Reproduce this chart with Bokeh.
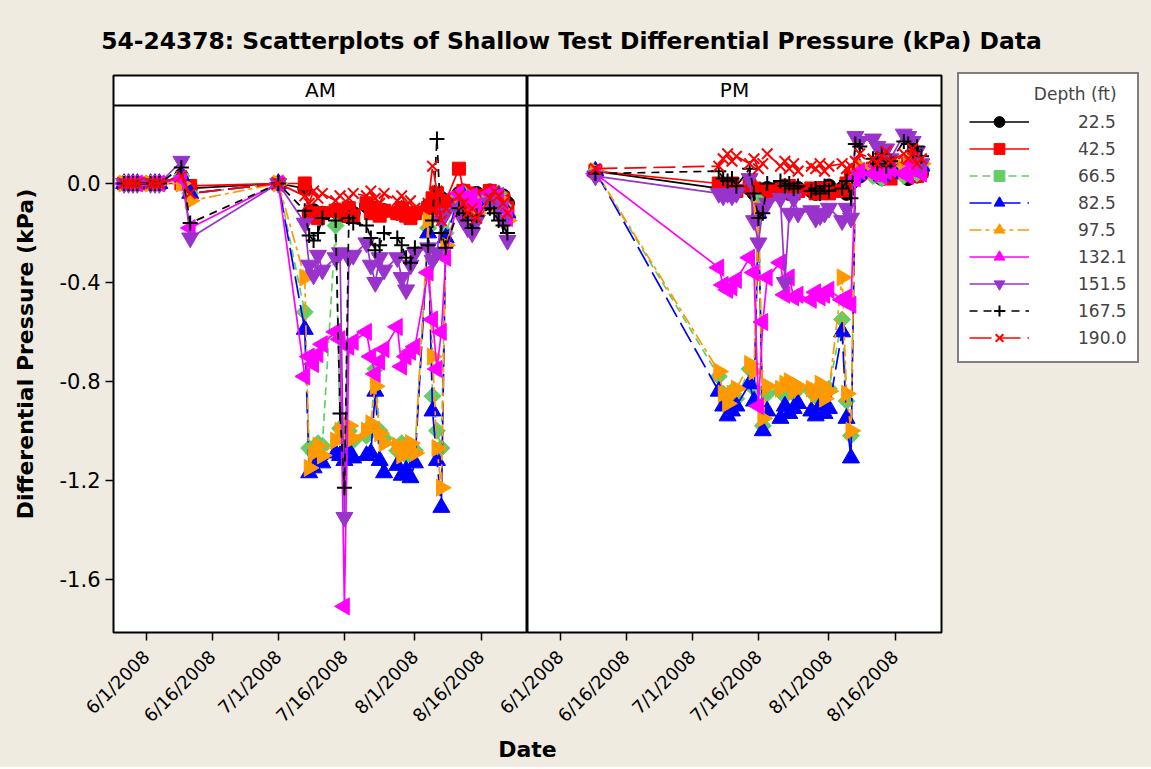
import math
from datetime import datetime
import pandas as pd
from bokeh.plotting import figure
from bokeh.layouts import column, row
from bokeh.models import (ColumnDataSource, Range1d, FixedTicker, DatetimeTickFormatter,
                          PrintfTickFormatter, Span, Label, Legend, LegendItem)
from bokeh.embed import file_html
from bokeh.resources import INLINE
from bokeh.core.properties import value

# ---------------- data ----------------
TITLE = "54-24378:  Scatterplots of Shallow Test Differential Pressure (kPa) Data"
PANELS = ["AM", "PM"]
X_LABEL = "Date"
Y_LABEL = "Differential Pressure (kPa)"
LEGEND_TITLE = "Depth (ft)"
DEPTHS = ["22.5", "42.5", "66.5", "82.5", "97.5", "132.1", "151.5", "167.5", "190.0"]
X_TICK_DATES = ["2008-06-01", "2008-06-16", "2008-07-01", "2008-07-16", "2008-08-01", "2008-08-16"]
Y_TICKS = [0.0, -0.4, -0.8, -1.2, -1.6]

AM_DATES = ["2008-05-27", "2008-05-28", "2008-05-29", "2008-05-30", "2008-06-02", "2008-06-03", "2008-06-04",
            "2008-06-09", "2008-06-11", "2008-07-01",
            "2008-07-07", "2008-07-08", "2008-07-09", "2008-07-10", "2008-07-11",
            "2008-07-14", "2008-07-15", "2008-07-16", "2008-07-17", "2008-07-18",
            "2008-07-21", "2008-07-22", "2008-07-23", "2008-07-24", "2008-07-25",
            "2008-07-28", "2008-07-29", "2008-07-30", "2008-07-31", "2008-08-01",
            "2008-08-04", "2008-08-05", "2008-08-06", "2008-08-07", "2008-08-08",
            "2008-08-11", "2008-08-12", "2008-08-13", "2008-08-14", "2008-08-15",
            "2008-08-18", "2008-08-19", "2008-08-20", "2008-08-21", "2008-08-22"]

AM_22_5 = [0.0, 0.0, 0.0, 0.0, 0.0, 0.0, 0.0, 0.03, -0.02, 0.0,
           -0.02, -0.12, -0.11, -0.13, -0.12, -0.11, -0.12, -0.13, -0.10, -0.12,
           -0.09, -0.11, -0.10, -0.12, -0.11, -0.12, -0.10, -0.12, -0.13, -0.12,
           -0.09, -0.08, -0.05, -0.06, -0.07, -0.04, -0.03, -0.05, -0.06, -0.04,
           -0.03, -0.04, -0.06, -0.05, -0.08]
AM_42_5 = [0.0, 0.0, 0.0, 0.0, 0.0, 0.0, 0.0, 0.0, -0.01, 0.0,
           0.0, -0.13, -0.12, -0.14, -0.12, -0.11, -0.13, -0.12, -0.10, -0.13,
           -0.08, -0.12, -0.10, -0.13, -0.11, -0.12, -0.10, -0.13, -0.14, -0.12,
           -0.10, -0.06, -0.04, -0.10, -0.07, 0.06, -0.03, -0.04, -0.06, -0.05,
           -0.03, -0.05, -0.08, -0.06, -0.10]
AM_66_5 = [0.0, 0.0, 0.0, 0.0, 0.0, 0.0, 0.0, 0.03, -0.04, 0.0,
           -0.52, -1.07, -1.09, -1.05, -1.06, -0.17, -0.99, -1.02, -1.00, -1.04,
           -1.02, -0.98, -0.75, -1.00, -1.03, -1.08, -1.05, -1.10, -1.06, -1.08,
           -0.18, -0.86, -1.00, -1.07, -0.20, -0.05, -0.04, -0.08, -0.06, -0.10,
           -0.05, -0.07, -0.04, -0.09, -0.13]
AM_82_5 = [0.0, 0.0, 0.0, 0.0, 0.0, 0.0, 0.0, 0.03, -0.04, 0.0,
           -0.59, -1.17, -1.15, -1.12, -1.13, -1.09, -1.10, -1.12, -1.08, -1.11,
           -1.10, -1.09, -0.84, -1.12, -1.17, -1.14, -1.18, -1.16, -1.19, -1.13,
           -0.20, -0.92, -1.12, -1.31, -0.22, -0.06, -0.05, -0.09, -0.07, -0.11,
           -0.06, -0.08, -0.05, -0.10, -0.12]
AM_97_5 = [0.0, 0.0, 0.0, 0.0, 0.0, 0.0, 0.0, 0.0, -0.07, 0.0,
           -0.38, -1.15, -1.09, -1.06, -1.10, -1.04, -1.00, -1.02, -0.98, -1.03,
           -1.00, -0.97, -0.82, -1.01, -1.05, -1.06, -1.10, -1.07, -1.05, -1.09,
           -0.15, -0.70, -1.07, -1.23, -0.25, -0.07, -0.06, -0.10, -0.08, -0.12,
           -0.07, -0.09, -0.06, -0.11, -0.15]
AM_132_1 = [0.0, 0.0, 0.0, 0.0, 0.0, 0.0, 0.0, 0.02, -0.18, 0.0,
            -0.78, -0.70, -0.73, -0.69, -0.65, -0.60, -0.63, -1.71, -0.66, -0.64,
            -0.60, -0.70, -0.77, -0.72, -0.67, -0.58, -0.74, -0.70, -0.68, -0.66,
            -0.36, -0.55, -0.75, -0.60, -0.30, -0.04, -0.06, -0.08, -0.05, -0.09,
            -0.04, -0.06, -0.05, -0.10, -0.14]
AM_151_5 = [0.0, 0.0, 0.0, 0.0, 0.0, 0.0, 0.0, 0.09, -0.22, 0.0,
            -0.16, -0.33, -0.37, -0.29, -0.35, -0.30, -0.28, -1.35, -0.30, -0.29,
            -0.24, -0.33, -0.40, -0.30, -0.35, -0.30, -0.38, -0.43, -0.33, -0.28,
            -0.26, -0.31, -0.28, -0.15, -0.12, -0.10, -0.15, -0.18, -0.20, -0.15,
            -0.08, -0.06, -0.10, -0.15, -0.23]
AM_167_5 = [0.0, 0.0, 0.0, 0.0, 0.0, 0.0, 0.0, 0.065, -0.16, 0.0,
            -0.11, -0.21, -0.23, -0.20, -0.14, -0.15, -0.93, -1.23, -0.14, -0.16,
            -0.17, -0.22, -0.27, -0.25, -0.20, -0.22, -0.25, -0.30, -0.32, -0.26,
            -0.25, -0.15, 0.18, -0.20, -0.26, -0.10, -0.12, -0.15, -0.18, -0.13,
            -0.10, -0.12, -0.15, -0.17, -0.20]
AM_190_0 = [0.0, 0.0, 0.0, 0.0, 0.0, 0.0, 0.0, 0.03, -0.04, 0.0,
            -0.05, -0.08, -0.03, -0.06, -0.04, -0.07, -0.05, -0.10, -0.06, -0.04,
            -0.05, -0.03, -0.06, -0.08, -0.04, -0.07, -0.05, -0.09, -0.07, -0.10,
            -0.08, 0.07, -0.03, -0.15, -0.10, -0.05, -0.08, -0.12, -0.10, -0.14,
            -0.06, -0.03, -0.05, -0.08, -0.12]

PM_DATES = ["2008-06-09",
            "2008-07-07", "2008-07-08", "2008-07-09", "2008-07-10", "2008-07-11",
            "2008-07-14", "2008-07-15", "2008-07-16", "2008-07-17", "2008-07-18",
            "2008-07-21", "2008-07-22", "2008-07-23", "2008-07-24", "2008-07-25",
            "2008-07-28", "2008-07-29", "2008-07-30", "2008-07-31", "2008-08-01",
            "2008-08-04", "2008-08-05", "2008-08-06", "2008-08-07", "2008-08-08",
            "2008-08-11", "2008-08-12", "2008-08-13", "2008-08-14", "2008-08-15",
            "2008-08-18", "2008-08-19", "2008-08-20", "2008-08-21", "2008-08-22"]

PM_22_5 = [0.05,
           -0.02, -0.03, -0.02, -0.04, -0.03, -0.02, -0.04, -0.05, -0.03, -0.02,
           -0.03, -0.01, -0.04, -0.03, -0.02, -0.03, -0.04, -0.02, -0.03, -0.01,
           -0.02, -0.04, 0.0, 0.02, 0.03, 0.04, 0.03, 0.02, 0.05, 0.03,
           0.04, 0.02, 0.05, 0.03, 0.04]
PM_42_5 = [0.05,
           0.0, -0.01, -0.02, 0.0, -0.03, -0.01, -0.02, -0.10, -0.04, -0.03,
           -0.02, -0.03, -0.01, -0.04, -0.03, -0.02, -0.04, -0.03, -0.02, -0.04,
           -0.03, 0.0, 0.03, 0.05, 0.04, 0.06, 0.05, 0.03, 0.04, 0.02,
           0.06, 0.08, 0.05, 0.03, 0.05]
PM_66_5 = [0.05,
           -0.78, -0.85, -0.88, -0.84, -0.87, -0.75, -0.83, -0.07, -0.98, -0.85,
           -0.84, -0.86, -0.82, -0.85, -0.83, -0.84, -0.86, -0.82, -0.85, -0.83,
           -0.55, -0.88, -1.02, 0.02, 0.05, 0.03, 0.06, 0.02, 0.04, 0.07,
           0.03, 0.05, 0.08, 0.04, 0.06]
PM_82_5 = [0.05,
           -0.84, -0.90, -0.94, -0.92, -0.90, -0.81, -0.88, -0.12, -1.00, -0.92,
           -0.95, -0.90, -0.93, -0.91, -0.89, -0.92, -0.94, -0.90, -0.93, -0.91,
           -0.60, -0.95, -1.11, 0.03, 0.06, 0.04, 0.07, 0.03, 0.05, 0.08,
           0.04, 0.06, 0.09, 0.05, 0.07]
PM_97_5 = [0.05,
           -0.76, -0.85, -0.89, -0.85, -0.83, -0.73, -0.76, -0.10, -0.95, -0.82,
           -0.83, -0.81, -0.80, -0.84, -0.82, -0.83, -0.85, -0.81, -0.87, -0.84,
           -0.38, -0.85, -1.00, 0.04, 0.07, 0.05, 0.08, 0.04, 0.06, 0.09,
           0.05, 0.07, 0.10, 0.06, 0.08]
PM_132_1 = [0.04,
            -0.34, -0.41, -0.43, -0.42, -0.39, -0.30, -0.36, -0.90, -0.56, -0.38,
            -0.32, -0.45, -0.38, -0.46, -0.45, -0.47, -0.44, -0.46, -0.45, -0.43,
            -0.47, -0.46, -0.49, 0.02, 0.05, 0.04, 0.07, 0.03, 0.05, 0.06,
            0.04, 0.03, 0.08, 0.05, 0.04]
PM_151_5 = [0.03,
            -0.04, -0.05, -0.04, -0.05, -0.04, 0.02, -0.15, -0.24, -0.10, -0.08,
            -0.06, -0.40, -0.12, -0.06, -0.12, -0.11, -0.14, -0.13, -0.12, -0.10,
            -0.15, -0.10, -0.14, 0.19, 0.17, 0.18, 0.15, 0.12, 0.14, 0.10,
            0.20, 0.19, 0.17, 0.13, 0.08]
PM_167_5 = [0.04,
            0.05, 0.02, 0.01, 0.02, -0.01, 0.06, -0.04, -0.14, -0.12, 0.0,
            0.01, -0.01, 0.0, -0.02, -0.01, -0.03, -0.02, -0.04, -0.01, -0.03,
            -0.02, 0.01, -0.06, 0.16, 0.15, 0.10, 0.08, 0.12, 0.07, 0.09,
            0.17, 0.16, 0.13, 0.15, 0.11]
PM_190_0 = [0.06,
            0.07, 0.10, 0.12, 0.09, 0.11, 0.08, 0.10, 0.06, 0.08, 0.12,
            0.07, 0.09, 0.06, 0.08, 0.05, 0.07, 0.06, 0.08, 0.05, 0.07,
            0.08, 0.06, 0.07, 0.09, 0.12, 0.10, 0.08, 0.11, 0.13, 0.09,
            0.12, 0.10, 0.14, 0.08, 0.10]

AM_SERIES = [AM_22_5, AM_42_5, AM_66_5, AM_82_5, AM_97_5, AM_132_1, AM_151_5, AM_167_5, AM_190_0]
PM_SERIES = [PM_22_5, PM_42_5, PM_66_5, PM_82_5, PM_97_5, PM_132_1, PM_151_5, PM_167_5, PM_190_0]

# ---------------- styles ----------------
BG = "#EFEBE0"
COLORS = ["#000000", "#FF0000", "#66CC66", "#0000FF", "#FF9900", "#FF00FF", "#9933CC", "#000000", "#FF0000"]
MARKERS = ["circle", "square", "square", "triangle", "triangle", "triangle", "inverted_triangle", "cross", "x"]
ANGLES = [0, 0, math.pi / 4, 0, -math.pi / 2, math.pi / 2, 0, 0, 0]
SIZES = [14, 13, 12, 17, 17, 17, 17, 15, 15]
MARKER_LW = [1, 1, 1, 1, 1, 1, 1, 2, 2]
DASHES = ["solid", "solid", "8 5", "22 7", "12 4 4 4", "solid", "solid", "8 6", "22 7"]

X0 = datetime(2008, 5, 24, 14, 10)
X1 = datetime(2008, 8, 26, 13, 15)
Y0, Y1 = -1.8156, 0.4367
STRIP_Y = 0.3154
FONT = "DejaVu Sans"
PM_OVERLAP = 44   # PM canvas reaches left under the AM panel so its first tick label is not cut


def build_panel(name, dates, series, first):
    data = {"date": pd.to_datetime(dates)}
    for i, s in enumerate(series):
        data[f"s{i}"] = s
    src = ColumnDataSource(data)
    kw = dict(frame_width=414, frame_height=557, x_axis_type="datetime",
              x_range=Range1d(X0, X1), y_range=Range1d(Y0, Y1),
              output_backend="svg", toolbar_location=None, title=None,
              min_border_top=6, min_border_bottom=100,
              background_fill_color="white",
              outline_line_color="black", outline_line_width=2)
    if first:
        p = figure(min_border_left=113, min_border_right=0, border_fill_color=BG, **kw)
    else:
        p = figure(min_border_left=PM_OVERLAP, min_border_right=194, y_axis_location=None,
                   border_fill_color=BG, border_fill_alpha=0.0,
                   margin=(0, 0, 0, -PM_OVERLAP), **kw)
    p.xgrid.visible = False
    p.ygrid.visible = False

    rends = []
    for i in range(len(DEPTHS)):
        lr = p.line("date", f"s{i}", source=src, line_color=COLORS[i], line_width=1.7,
                    line_dash=DASHES[i])
        sr = p.scatter("date", f"s{i}", source=src, marker=MARKERS[i], size=SIZES[i],
                       angle=ANGLES[i], fill_color=COLORS[i], line_color=COLORS[i],
                       line_width=MARKER_LW[i])
        rends.append([lr, sr])

    xa = p.xaxis[0]
    xa.ticker = FixedTicker(ticks=[pd.Timestamp(d).value / 1e6 for d in X_TICK_DATES])
    fmt = "%-m/%-d/%Y"
    xa.formatter = DatetimeTickFormatter(microseconds=fmt, milliseconds=fmt, seconds=fmt, minsec=fmt,
                                         minutes=fmt, hourmin=fmt, hours=fmt, days=fmt,
                                         months=fmt, years=fmt)
    xa.axis_line_color = None
    xa.major_tick_line_color = "black"
    xa.major_tick_line_width = 1.5
    xa.major_tick_out = 8
    xa.major_tick_in = 0
    xa.minor_tick_line_color = None
    xa.major_label_orientation = math.pi / 4
    xa.major_label_text_font = FONT
    xa.major_label_text_font_size = "18px"
    xa.major_label_text_color = "black"
    xa.major_label_standoff = 13

    if first:
        ya = p.yaxis[0]
        ya.ticker = FixedTicker(ticks=Y_TICKS)
        ya.formatter = PrintfTickFormatter(format="%.1f")
        ya.axis_line_color = None
        ya.major_tick_line_color = "black"
        ya.major_tick_line_width = 1.5
        ya.major_tick_out = 8
        ya.major_tick_in = 0
        ya.minor_tick_line_color = None
        ya.major_label_text_font = FONT
        ya.major_label_text_font_size = "21px"
        ya.major_label_text_color = "black"
        ya.major_label_standoff = 5
        ya.axis_label = Y_LABEL
        ya.axis_label_text_font = FONT
        ya.axis_label_text_font_size = "22px"
        ya.axis_label_text_font_style = "bold"
        ya.axis_label_text_color = "black"
        ya.axis_label_standoff = 19

    p.add_layout(Span(location=STRIP_Y, dimension="width", line_color="black", line_width=2))
    p.add_layout(Label(x=207, y=(STRIP_Y + Y1) / 2, x_units="screen", text=name,
                       text_align="center", text_baseline="middle", text_font=FONT,
                       text_font_size="20px", text_color="black"))
    return p, rends


p_am, _ = build_panel(PANELS[0], AM_DATES, AM_SERIES, True)
p_pm, pm_rends = build_panel(PANELS[1], PM_DATES, PM_SERIES, False)

legend = Legend(items=[LegendItem(label=value(d), renderers=r) for d, r in zip(DEPTHS, pm_rends)],
                location=(16, 269), margin=0, title="\u00a0" * 12 + LEGEND_TITLE,
                title_text_font=FONT, title_text_font_size="17px", title_text_font_style="normal",
                title_standoff=4,
                label_text_font=FONT, label_text_font_size="17px", label_text_align="right",
                glyph_width=60, glyph_height=27, spacing=0, padding=10, label_standoff=49,
                border_line_color="black", border_line_width=2,
                background_fill_color="white", background_fill_alpha=1.0)
p_pm.add_layout(legend, "right")

# title strip
p_title = figure(width=1135, height=69, x_range=Range1d(0, 1135), y_range=Range1d(0, 69),
                 output_backend="svg", toolbar_location=None, title=None, min_border=0,
                 x_axis_location=None, y_axis_location=None, outline_line_color=None,
                 background_fill_color=BG, border_fill_color=BG)
p_title.grid.visible = False
p_title.add_layout(Label(x=575, y=29, text=TITLE, text_align="center", text_baseline="middle",
                         text_font=FONT, text_font_size="23.4px", text_font_style="bold",
                         text_color="black"))

# x axis title strip
p_date = figure(width=1135, height=31, x_range=Range1d(0, 1135), y_range=Range1d(0, 31),
                output_backend="svg", toolbar_location=None, title=None, min_border=0,
                x_axis_location=None, y_axis_location=None, outline_line_color=None,
                background_fill_color=BG, border_fill_color=BG)
p_date.grid.visible = False
p_date.add_layout(Label(x=527, y=18, text=X_LABEL, text_align="center", text_baseline="middle",
                        text_font=FONT, text_font_size="22px", text_font_style="bold",
                        text_color="black"))

layout = column(p_title, row(p_am, p_pm, styles={"background-color": BG}),
                p_date, styles={"background-color": BG})
open("out.html", "w").write(file_html(layout, INLINE))
